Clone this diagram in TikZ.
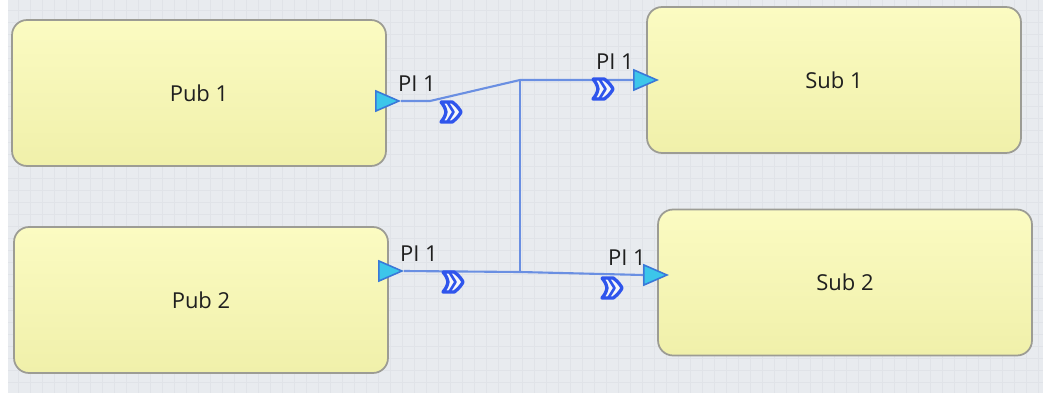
\documentclass[tikz,border=0pt]{standalone}
\usepackage{fontspec}
\setmainfont{Open Sans}
\usepackage{xcolor}
\usepackage{tikz}
\usetikzlibrary{shapes.geometric}

\definecolor{canvas}{HTML}{E8EBEF}
\definecolor{gridc}{HTML}{E0E3E8}
\definecolor{boxtop}{HTML}{FBFBC2}
\definecolor{boxbot}{HTML}{F0F0AA}
\definecolor{boxline}{HTML}{9C9C94}
\definecolor{wire}{HTML}{6A8FE2}
\definecolor{portfill}{HTML}{3CC6EA}
\definecolor{portline}{HTML}{3A78D8}
\definecolor{markc}{HTML}{2F55EC}

\tikzset{
	block/.style={rectangle,rounded corners=0.3cm,draw=boxline,line width=1pt,
		top color=boxtop,bottom color=boxbot,
		minimum width=7.48cm,minimum height=2.92cm,font=\fontsize{12.5}{14}\selectfont,text=black!88},
	port/.style={isosceles triangle,isosceles triangle stretches,shape border rotate=0,
		minimum width=0.4cm,minimum height=0.46cm,inner sep=0pt,
		fill=portfill,draw=portline,line width=0.9pt},
	plabel/.style={font=\fontsize{12.5}{14}\selectfont,text=black!88,inner sep=0pt},
	wireline/.style={draw=wire,line width=1.2pt},
	flowmark/.pic={
		\draw[markc,line width=1.9pt,fill=white!60!canvas,line join=round,scale=1.25]
			(-8,-8) -- (1,-8) .. controls (5,-5) and (7,-2) .. (8,0)
			.. controls (7,2) and (5,5) .. (1,8) -- (-8,8)
			.. controls (-5,4) .. (-4,0) .. controls (-5,-4) .. cycle;
		\draw[markc,line width=1.5pt,line join=round,scale=1.25]
			(-3,-8) .. controls (0,-4) .. (2,0) .. controls (0,4) .. (-3,8);
	}
}

\begin{document}
\begin{tikzpicture}[x=0.02cm,y=-0.02cm]
	\useasboundingbox (0,0) rectangle (1043,395);
	\fill[canvas] (8,0) rectangle (1043,393);
	\foreach \gx in {18,30,...,1040}
		\draw[gridc,line width=0.4pt] (\gx,0) -- (\gx,393);
	\foreach \gy in {10,22,...,390}
		\draw[gridc,line width=0.4pt] (8,\gy) -- (1043,\gy);
	%
	\node[block] (pub1) at (199,93) {Pub 1};
	\node[block] (pub2) at (201,300) {Pub 2};
	\node[block] (sub1) at (834,80) {Sub 1};
	\node[block] (sub2) at (845,282.5) {Sub 2};
	%
	\node[port,anchor=apex] (pub1p) at (401,101) {};
	\node[port,anchor=apex] (pub2p) at (404,271) {};
	\node[port,anchor=apex] (sub1p) at (659,80) {};
	\node[port,anchor=apex] (sub2p) at (669,275) {};
	%
	\node[plabel] (pub1l) at (417,84) {PI 1};
	\node[plabel] (pub2l) at (419,254) {PI 1};
	\node[plabel] (sub1l) at (615,62) {PI 1};
	\node[plabel] (sub2l) at (627,258) {PI 1};
	%
	\coordinate (bend1) at (430,101);
	\coordinate (join1) at (520,80);
	\coordinate (join2) at (520,272);
	%
	\draw[wireline] (pub1p.apex) -- (bend1) -- (join1) -- (sub1p.lower side);
	\draw[wireline] (pub2p.apex) -- (join2) -- (sub2p.lower side);
	\draw[wireline] (join1) -- (join2);
	%
	\pic at (451,112) {flowmark};
	\pic at (603,89) {flowmark};
	\pic at (453,282) {flowmark};
	\pic at (612,288) {flowmark};
\end{tikzpicture}
\end{document}
